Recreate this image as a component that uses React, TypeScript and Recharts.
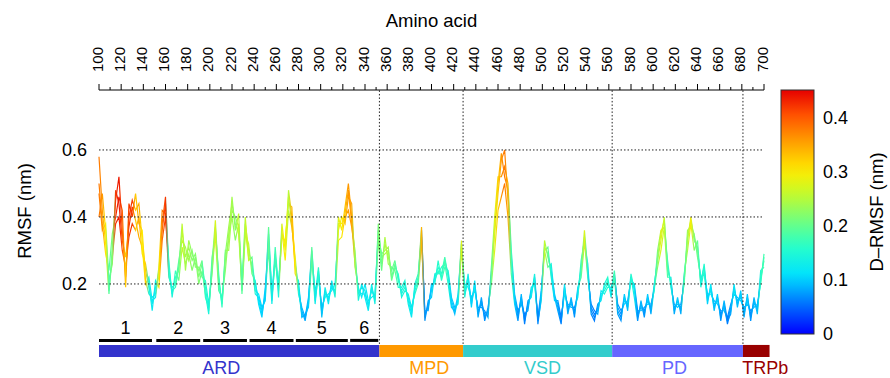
import { LineChart, Line, XAxis, YAxis, ReferenceLine, ReferenceArea, Customized } from 'recharts';

// residues sampled every 3 aa, 100..700
const residues: number[] = Array.from({ length: 201 }, (_, i) => 100 + i * 3);

// replicate RMSF traces (nm)
const rmsfA: number[] = [
  .58, .42, .32, .17, .31, .45, .52, .36, .22, .40,
  .45, .42, .44, .33, .24, .19, .14, .19, .22, .38,
  .46, .25, .17, .22, .24, .36, .28, .31, .27, .29,
  .22, .26, .19, .12, .26, .39, .20, .15, .27, .33,
  .46, .36, .41, .18, .38, .30, .25, .20, .15, .11,
  .17, .35, .15, .31, .18, .38, .30, .48, .40, .26,
  .19, .12, .09, .15, .30, .16, .25, .11, .18, .15,
  .20, .17, .40, .36, .43, .50, .40, .28, .17, .19,
  .18, .13, .19, .15, .38, .26, .32, .28, .24, .27,
  .21, .18, .20, .15, .11, .19, .22, .37, .10, .14,
  .18, .22, .25, .23, .28, .22, .14, .11, .16, .33,
  .18, .22, .14, .20, .11, .15, .10, .12, .22, .35,
  .47, .57, .60, .45, .26, .15, .10, .16, .09, .14,
  .17, .22, .08, .16, .33, .28, .24, .17, .13, .09,
  .19, .12, .15, .11, .18, .24, .36, .24, .12, .10,
  .13, .16, .19, .21, .17, .24, .12, .10, .16, .13,
  .23, .18, .10, .14, .11, .16, .12, .20, .27, .33,
  .40, .24, .21, .12, .15, .12, .22, .33, .40, .33,
  .31, .20, .26, .15, .19, .13, .16, .10, .14, .08,
  .12, .19, .14, .17, .11, .16, .10, .15, .12, .22,
  .27,
];

const rmsfB: number[] = [
  .50, .38, .29, .24, .35, .40, .46, .42, .19, .44,
  .40, .47, .38, .36, .21, .17, .16, .17, .25, .42,
  .41, .22, .19, .20, .27, .33, .31, .27, .30, .25,
  .25, .22, .21, .14, .23, .36, .23, .13, .30, .30,
  .42, .40, .37, .20, .40, .27, .28, .18, .17, .13,
  .15, .33, .17, .28, .20, .34, .33, .44, .43, .23,
  .21, .10, .11, .13, .27, .18, .22, .13, .16, .17,
  .18, .20, .36, .40, .38, .46, .44, .25, .19, .16,
  .20, .15, .16, .17, .34, .29, .30, .31, .21, .25,
  .23, .16, .18, .17, .13, .17, .20, .33, .12, .12,
  .20, .20, .27, .21, .25, .24, .16, .13, .14, .30,
  .20, .19, .16, .18, .13, .13, .12, .10, .25, .40,
  .52, .52, .55, .50, .30, .17, .12, .14, .11, .12,
  .19, .20, .10, .18, .30, .31, .22, .15, .15, .10,
  .17, .14, .13, .13, .16, .27, .33, .22, .14, .12,
  .11, .18, .17, .19, .19, .22, .14, .12, .14, .15,
  .21, .20, .12, .12, .13, .14, .14, .18, .30, .36,
  .37, .27, .19, .14, .13, .14, .20, .36, .37, .35,
  .28, .22, .23, .17, .17, .15, .14, .12, .12, .10,
  .14, .17, .16, .15, .13, .14, .12, .13, .14, .20,
  .29,
];

const rmsfC: number[] = [
  .40, .47, .36, .18, .28, .38, .40, .30, .25, .34,
  .38, .36, .40, .29, .26, .20, .12, .21, .19, .33,
  .40, .27, .16, .24, .21, .31, .26, .29, .24, .28,
  .20, .24, .17, .11, .28, .34, .18, .16, .24, .35,
  .40, .33, .38, .17, .35, .32, .23, .21, .14, .10,
  .19, .30, .14, .29, .16, .36, .27, .42, .37, .28,
  .17, .13, .10, .16, .28, .14, .24, .10, .19, .14,
  .21, .16, .33, .34, .40, .42, .37, .30, .15, .20,
  .16, .12, .20, .14, .33, .24, .34, .26, .25, .24,
  .19, .19, .21, .14, .10, .20, .23, .34, .09, .15,
  .16, .23, .23, .25, .26, .20, .13, .12, .17, .31,
  .16, .23, .13, .21, .10, .16, .09, .13, .20, .30,
  .42, .46, .50, .40, .23, .14, .09, .17, .08, .15,
  .16, .23, .09, .15, .30, .25, .26, .16, .12, .08,
  .20, .11, .16, .10, .19, .22, .32, .26, .11, .09,
  .14, .15, .20, .22, .16, .22, .11, .09, .17, .12,
  .22, .16, .09, .15, .10, .17, .11, .19, .25, .30,
  .37, .22, .22, .11, .16, .11, .23, .30, .38, .30,
  .33, .19, .24, .14, .20, .12, .17, .09, .15, .09,
  .11, .20, .13, .18, .10, .17, .09, .16, .11, .24,
  .25,
];

const rmsfD: number[] = [
  .47, .36, .38, .21, .26, .48, .44, .33, .28, .37,
  .43, .39, .34, .31, .20, .22, .15, .16, .24, .36,
  .44, .23, .18, .19, .25, .38, .24, .33, .29, .26,
  .24, .27, .16, .13, .24, .37, .21, .14, .29, .37,
  .44, .38, .35, .19, .36, .28, .26, .17, .16, .12,
  .16, .37, .16, .27, .19, .35, .32, .46, .38, .25,
  .18, .11, .10, .14, .31, .15, .23, .12, .17, .16,
  .19, .18, .38, .38, .41, .48, .38, .26, .18, .17,
  .17, .14, .18, .16, .36, .28, .29, .30, .22, .26,
  .22, .17, .19, .16, .12, .18, .21, .36, .11, .13,
  .19, .21, .24, .22, .27, .23, .15, .12, .15, .32,
  .17, .21, .15, .19, .12, .14, .11, .11, .23, .37,
  .50, .59, .52, .48, .28, .16, .11, .15, .10, .13,
  .18, .21, .09, .17, .31, .29, .23, .16, .14, .09,
  .18, .13, .14, .12, .17, .25, .34, .23, .13, .11,
  .12, .17, .18, .20, .18, .23, .13, .11, .15, .14,
  .22, .19, .11, .13, .12, .15, .13, .19, .28, .35,
  .39, .25, .20, .13, .14, .13, .21, .34, .39, .34,
  .30, .21, .25, .16, .18, .14, .15, .11, .13, .09,
  .13, .18, .15, .16, .12, .15, .11, .14, .13, .21,
  .28,
];

// D-RMSF (nm) per residue, used for colouring
const drmsf: number[] = [
  .38, .36, .30, .18, .22, .42, .44, .40, .32, .42,
  .42, .32, .35, .30, .32, .14, .12, .13, .30, .38,
  .42, .16, .14, .17, .20, .26, .24, .24, .22, .22,
  .22, .20, .16, .14, .20, .28, .18, .16, .22, .24,
  .24, .22, .26, .18, .26, .26, .20, .14, .11, .10,
  .10, .20, .12, .18, .14, .28, .30, .25, .34, .30,
  .14, .09, .08, .10, .20, .12, .16, .09, .13, .12,
  .12, .14, .28, .30, .33, .36, .35, .24, .14, .12,
  .12, .12, .13, .13, .22, .20, .25, .24, .20, .20,
  .16, .14, .15, .13, .12, .14, .18, .34, .07, .08,
  .10, .14, .16, .16, .18, .15, .10, .09, .12, .28,
  .14, .13, .10, .12, .08, .08, .07, .08, .20, .28,
  .32, .36, .38, .34, .18, .10, .07, .09, .06, .08,
  .12, .14, .06, .10, .26, .20, .14, .10, .08, .06,
  .12, .08, .09, .07, .12, .18, .28, .14, .07, .06,
  .08, .12, .14, .16, .12, .18, .08, .07, .10, .09,
  .16, .12, .07, .09, .07, .10, .08, .14, .22, .28,
  .26, .18, .14, .08, .10, .08, .18, .24, .30, .22,
  .20, .14, .16, .10, .12, .09, .10, .07, .09, .06,
  .08, .12, .09, .10, .08, .10, .07, .09, .09, .16,
  .18,
];

const xTicks: number[] = Array.from({ length: 61 }, (_, i) => 100 + i * 10);
const yTicks = [0.2, 0.4, 0.6];
const cbarTicks = [0, 0.1, 0.2, 0.3, 0.4];
const cbarMax = 0.45;

// domains (residue ranges)
const domainNames = ['ARD', 'MPD', 'VSD', 'PD', 'TRPb'];
const domainStart = [100, 353, 428.5, 563, 681];
const domainEnd = [353, 428.5, 563, 681, 705];
const boundaries = [353, 428.5, 563, 681];

// ankyrin repeats
const repeatNames = ['1', '2', '3', '4', '5', '6'];
const repeatStart = [100, 151.7, 194, 235.8, 277.6, 326.6];
const repeatEnd = [147.8, 191.3, 233.5, 275.5, 324.5, 352];

const domainColor: Record<string, string> = {
  ARD: '#3333cc', MPD: '#ff9900', VSD: '#33cccc', PD: '#6666ff', TRPb: '#990000',
};
const domainLabelDx: Record<string, number> = { ARD: -18, MPD: 8, VSD: 5, PD: -3, TRPb: 9 };

const JET: number[][] = [
  [0.0, 0, 0, 255],
  [0.12, 0, 110, 255],
  [0.24, 0, 225, 255],
  [0.36, 40, 255, 200],
  [0.46, 110, 255, 130],
  [0.58, 200, 250, 40],
  [0.67, 255, 235, 0],
  [0.8, 255, 150, 0],
  [0.9, 255, 80, 0],
  [1.0, 230, 0, 0],
];

function jet(t: number): string {
  const u = Math.max(0, Math.min(1, t));
  for (let i = 1; i < JET.length; i++) {
    if (u <= JET[i][0]) {
      const a = JET[i - 1], b = JET[i];
      const f = (u - a[0]) / (b[0] - a[0]);
      const c = [1, 2, 3].map(k => Math.round(a[k] + (b[k] - a[k]) * f));
      return `rgb(${c[0]},${c[1]},${c[2]})`;
    }
  }
  return 'rgb(230,0,0)';
}

const rows = residues.map((r, i) => ({ res: r, a: rmsfA[i], b: rmsfB[i], c: rmsfC[i], d: rmsfD[i] }));
const traceKeys = ['a', 'b', 'c', 'd'];

const FONT = '"Liberation Sans", Arial, Helvetica, sans-serif';

const TopTick = (props: any) => {
  const { x, y, payload } = props;
  const v = payload.value as number;
  const major = v % 20 === 0;
  return (
    <g>
      <line x1={x} x2={x} y1={y} y2={y - (major ? 6 : 3)} stroke="#000" />
      {major && (
        <text transform={`translate(${x + 3.5},${y - 18}) rotate(-90)`} fontSize={15} fill="#000" fontFamily={FONT}>
          {v}
        </text>
      )}
    </g>
  );
};

const XTitle = (p: any) => {
  const vb = p.viewBox ?? { x: 99, y: 0, width: 665, height: 90 };
  return (
    <text x={vb.x + vb.width / 2} y={27} textAnchor="middle" fontSize={18.5} fill="#000" fontFamily={FONT}>
      Amino acid
    </text>
  );
};

const YTitle = (p: any) => {
  const vb = p.viewBox ?? { x: 0, y: 90, width: 99, height: 267 };
  const cx = vb.x + 31;
  const cy = vb.y + vb.height / 2 - 12.5;
  return (
    <text transform={`translate(${cx},${cy}) rotate(-90)`} textAnchor="middle" fontSize={18.5} fill="#000" fontFamily={FONT}>
      RMSF (nm)
    </text>
  );
};

const ColorBar = () => {
  const x = 781, top = 90, h = 244, w = 33;
  const yOf = (v: number) => top + h - (v / cbarMax) * h;
  return (
    <g fontFamily={FONT}>
      <rect x={x} y={top} width={w} height={h} fill="url(#cbarGrad)" stroke="#333" strokeWidth={1} />
      {cbarTicks.map(t => (
        <text key={t} x={823} y={yOf(t)} dy="0.36em" fontSize={18} fill="#000">
          {t === 0 ? '0' : t.toFixed(1)}
        </text>
      ))}
      <text transform={`translate(883,212) rotate(-90)`} textAnchor="middle" fontSize={18.5} fill="#000">
        D–RMSF (nm)
      </text>
    </g>
  );
};

const domainLabel = (name: string) => (p: any) => {
  const vb = p.viewBox;
  if (!vb) return null;
  return (
    <text x={vb.x + vb.width / 2 + domainLabelDx[name]} y={vb.y + vb.height + 17} textAnchor="middle"
      fontSize={18} fill={domainColor[name]} fontFamily={FONT}>
      {name}
    </text>
  );
};

export default function App() {
  return (
    <div style={{ position: 'absolute', left: 0, top: 0, width: 890, height: 378, background: '#fff', fontFamily: FONT }}>
      <LineChart width={890} height={378} data={rows} margin={{ top: 0, right: 126, bottom: 21, left: 0 }}>
        <defs>
          <linearGradient id="drmsf" x1="0" y1="0" x2="1" y2="0">
            {drmsf.map((d, i) => (
              <stop key={i} offset={(residues[i] - 100) / 600} stopColor={jet(d / cbarMax)} />
            ))}
          </linearGradient>
          <linearGradient id="cbarGrad" x1="0" y1="1" x2="0" y2="0">
            {Array.from({ length: 21 }, (_, i) => (
              <stop key={i} offset={i / 20} stopColor={jet(i / 20)} />
            ))}
          </linearGradient>
        </defs>
        <XAxis
          dataKey="res"
          type="number"
          orientation="top"
          domain={[100, 700]}
          ticks={xTicks}
          interval={0}
          height={90}
          axisLine={{ stroke: '#000' }}
          tickLine={false}
          tickSize={0}
          tickMargin={0}
          tick={<TopTick />}
          label={XTitle}
        />
        <YAxis
          type="number"
          domain={[-0.018, 0.779]}
          ticks={yTicks}
          allowDataOverflow
          width={99}
          axisLine={false}
          tickLine={false}
          tickSize={0}
          tickMargin={12}
          tick={{ fontSize: 18, fill: '#000', fontFamily: FONT }}
          tickFormatter={(v: number) => v.toFixed(1)}
          label={YTitle}
        />
        {repeatNames.map((n, i) => (
          <ReferenceArea key={'rep' + n} x1={repeatStart[i]} x2={repeatEnd[i]} y1={0.027} y2={0.036}
            fill="#000" fillOpacity={1} stroke="none"
            label={{ value: n, position: 'top', offset: 5, fontSize: 18, fill: '#000', fontFamily: FONT }} />
        ))}
        {domainNames.map((n, i) => (
          <ReferenceArea key={'dom' + n} x1={domainStart[i]} x2={domainEnd[i]} y1={-0.018} y2={0.018}
            fill={domainColor[n]} fillOpacity={1} stroke="none" ifOverflow="visible"
            label={domainLabel(n)} />
        ))}
        {traceKeys.map(k => (
          <Line key={k} dataKey={k} type="linear" stroke="url(#drmsf)" strokeWidth={1.2} dot={false} isAnimationActive={false} />
        ))}
        {yTicks.map(t => (
          <ReferenceLine key={'h' + t} y={t} stroke="#222" strokeDasharray="1.5 2" strokeWidth={1} />
        ))}
        {boundaries.map(b => (
          <ReferenceLine key={'v' + b} segment={[{ x: b, y: 0.021 }, { x: b, y: 0.779 }]} stroke="#222" strokeDasharray="1.5 2" strokeWidth={1} />
        ))}
        <Customized component={ColorBar} />
      </LineChart>
    </div>
  );
}
